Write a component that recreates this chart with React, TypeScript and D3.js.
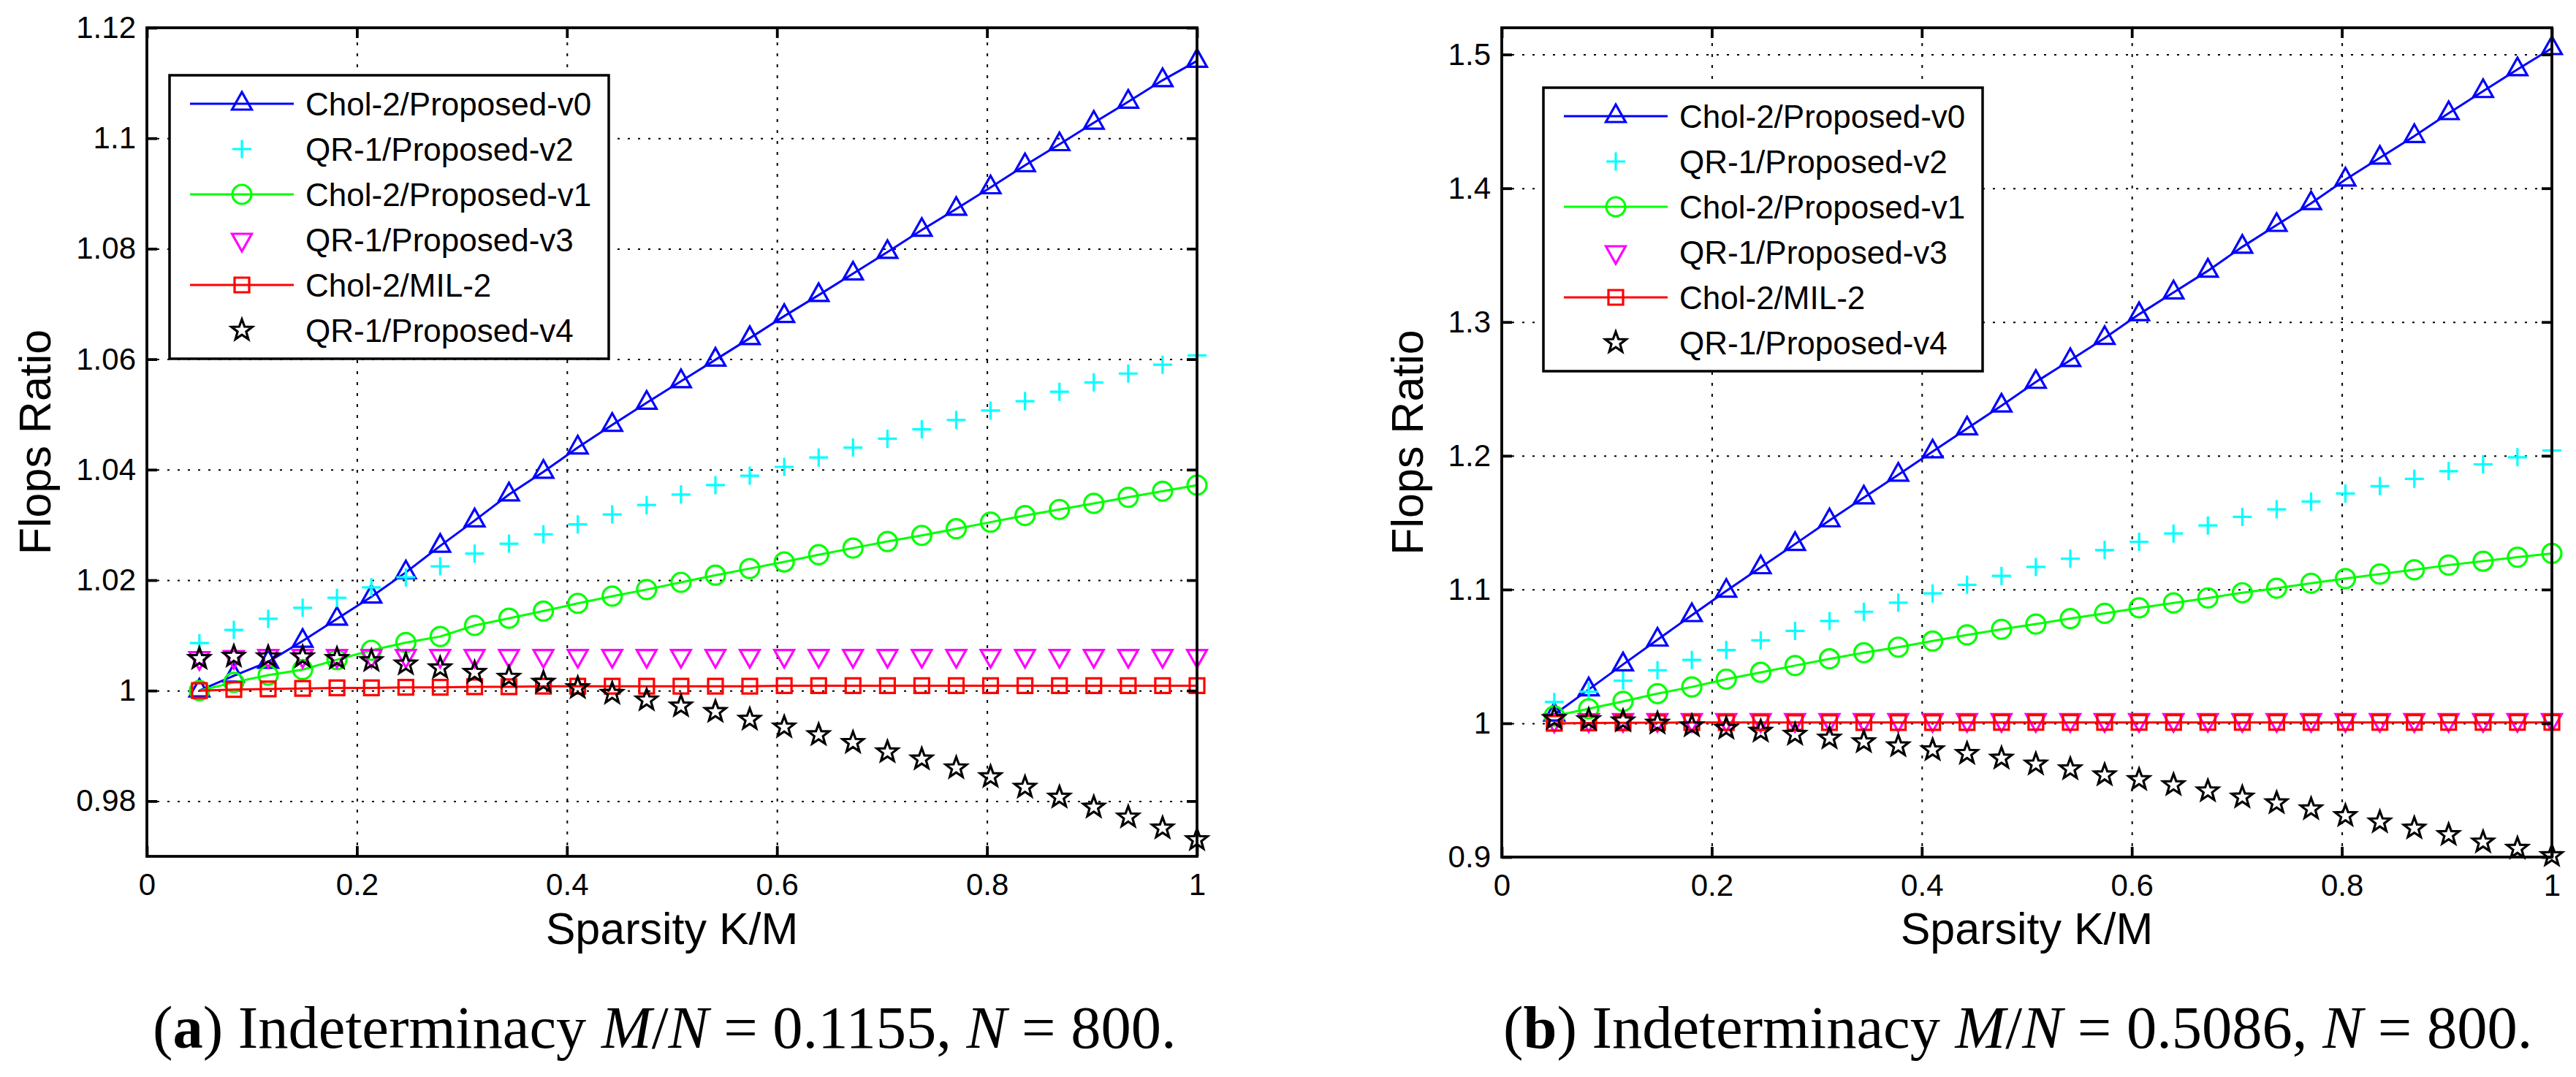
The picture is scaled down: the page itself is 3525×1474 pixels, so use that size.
import React, { useEffect, useRef } from "react";
import * as d3 from "d3";

// K/M values shared by both panels
const sparsity = [
	0.05, 0.0828, 0.1155, 0.1483, 0.181, 0.2138, 0.2466, 0.2793, 0.3121, 0.3448,
	0.3776, 0.4103, 0.4431, 0.4759, 0.5086, 0.5414, 0.5741, 0.6069, 0.6397, 0.6724,
	0.7052, 0.7379, 0.7707, 0.8034, 0.8362, 0.869, 0.9017, 0.9345, 0.9672, 1.0,
];
const xTicks = [0, 0.2, 0.4, 0.6, 0.8, 1];

// panel (a): M/N = 0.1155
const aYTicks = [0.98, 1, 1.02, 1.04, 1.06, 1.08, 1.1, 1.12];
const aCholV0 = [
	1.0, 1.0027, 1.0052, 1.009, 1.013, 1.017, 1.0214, 1.0262, 1.0308, 1.0355,
	1.0396, 1.044, 1.0481, 1.0521, 1.056, 1.0599, 1.0638, 1.0678, 1.0716, 1.0755,
	1.0794, 1.0834, 1.0872, 1.0911, 1.0951, 1.0989, 1.1028, 1.1066, 1.1105, 1.114,
];
const aQrV2 = [
	1.0086, 1.011, 1.013, 1.015, 1.0168, 1.0187, 1.0205, 1.0225, 1.0248, 1.0266,
	1.0283, 1.0301, 1.0319, 1.0336, 1.0355, 1.0372, 1.0389, 1.0405, 1.0422, 1.044,
	1.0456, 1.0473, 1.049, 1.0507, 1.0524, 1.0541, 1.0558, 1.0574, 1.059, 1.0607,
];
const aCholV1 = [
	1.0, 1.0015, 1.0028, 1.0038, 1.0056, 1.0073, 1.0087, 1.0098, 1.0118, 1.0131,
	1.0144, 1.0158, 1.0171, 1.0183, 1.0196, 1.0209, 1.0221, 1.0233, 1.0246, 1.0258,
	1.027, 1.0281, 1.0293, 1.0305, 1.0317, 1.0328, 1.0339, 1.035, 1.0361, 1.0372,
];
const aQrV3 = [
	1.0059, 1.0061, 1.0063, 1.0063, 1.0063, 1.0063, 1.0063, 1.0063, 1.0063, 1.0063,
	1.0063, 1.0063, 1.0063, 1.0063, 1.0063, 1.0063, 1.0063, 1.0063, 1.0063, 1.0063,
	1.0063, 1.0063, 1.0063, 1.0063, 1.0063, 1.0063, 1.0063, 1.0063, 1.0063, 1.0063,
];
const aCholMil2 = [
	1.0, 1.0002, 1.0003, 1.0004, 1.0005, 1.0005, 1.0006, 1.0006, 1.0007, 1.0007,
	1.0008, 1.0008, 1.0008, 1.0008, 1.0008, 1.0008, 1.0008, 1.0009, 1.0009, 1.0009,
	1.0009, 1.0009, 1.0009, 1.0009, 1.0009, 1.0009, 1.0009, 1.0009, 1.0009, 1.0009,
];
const aQrV4 = [
	1.0058, 1.0062, 1.0061, 1.0061, 1.0058, 1.0054, 1.0048, 1.0041, 1.0033, 1.0024,
	1.0015, 1.0005, 0.9995, 0.9983, 0.9972, 0.9962, 0.9948, 0.9934, 0.992, 0.9906,
	0.9889, 0.9876, 0.986, 0.9844, 0.9825, 0.9807, 0.9789, 0.9771, 0.9751, 0.973,
];

// panel (b): M/N = 0.5086
const bYTicks = [0.9, 1, 1.1, 1.2, 1.3, 1.4, 1.5];
const bCholV0 = [
	1.0065, 1.0253, 1.044, 1.0625, 1.0808, 1.099, 1.1166, 1.134, 1.1517, 1.1688,
	1.1858, 1.2032, 1.2204, 1.2375, 1.2552, 1.2715, 1.288, 1.3058, 1.3221, 1.3383,
	1.3562, 1.3725, 1.3888, 1.4065, 1.4228, 1.439, 1.4561, 1.4726, 1.4889, 1.5047,
];
const bQrV2 = [
	1.016, 1.0237, 1.0319, 1.0397, 1.0474, 1.0548, 1.062, 1.0691, 1.0765, 1.0834,
	1.0902, 1.0971, 1.1036, 1.1102, 1.1169, 1.1231, 1.1295, 1.1357, 1.1419, 1.1479,
	1.1543, 1.16, 1.1658, 1.1718, 1.1773, 1.1828, 1.1885, 1.1936, 1.1989, 1.2039,
];
const bCholV1 = [
	1.0055, 1.0109, 1.0164, 1.0222, 1.0272, 1.033, 1.0381, 1.0432, 1.0482, 1.0528,
	1.0569, 1.0615, 1.0661, 1.0703, 1.0742, 1.0783, 1.0822, 1.0863, 1.09, 1.0937,
	1.0976, 1.101, 1.1047, 1.1082, 1.1116, 1.1148, 1.1183, 1.1212, 1.1242, 1.127,
];
const bQrV3 = [
	1.0022, 1.0024, 1.0025, 1.0025, 1.0025, 1.0025, 1.0025, 1.0025, 1.0025, 1.0025,
	1.0025, 1.0025, 1.0025, 1.0025, 1.0025, 1.0025, 1.0025, 1.0025, 1.0025, 1.0025,
	1.0025, 1.0025, 1.0025, 1.0025, 1.0025, 1.0025, 1.0025, 1.0025, 1.0025, 1.0025,
];
const bCholMil2 = [
	1.0, 1.0003, 1.0004, 1.0005, 1.0006, 1.0006, 1.0006, 1.0006, 1.0006, 1.0006,
	1.0006, 1.0006, 1.0006, 1.0007, 1.0007, 1.0007, 1.0007, 1.0007, 1.0007, 1.0007,
	1.0007, 1.0007, 1.0007, 1.0007, 1.0007, 1.0007, 1.0007, 1.0007, 1.0007, 1.0007,
];
const bQrV4 = [
	1.0035, 1.0027, 1.0017, 1.0, 0.998, 0.9962, 0.994, 0.9917, 0.9889, 0.9861,
	0.9831, 0.9801, 0.9774, 0.9739, 0.9695, 0.9659, 0.9614, 0.9579, 0.954, 0.9494,
	0.9448, 0.9405, 0.936, 0.9309, 0.9262, 0.9216, 0.9167, 0.9112, 0.9065, 0.901,
];

const seriesLabels = [
	"Chol-2/Proposed-v0",
	"QR-1/Proposed-v2",
	"Chol-2/Proposed-v1",
	"QR-1/Proposed-v3",
	"Chol-2/MIL-2",
	"QR-1/Proposed-v4",
];

// styles (same order as labels)
const seriesStyle = [
	{ color: "#0000ff", marker: "triangle-up", line: true },
	{ color: "#00ffff", marker: "plus", line: false },
	{ color: "#00ff00", marker: "circle", line: true },
	{ color: "#ff00ff", marker: "triangle-down", line: false },
	{ color: "#ff0000", marker: "square", line: true },
	{ color: "#000000", marker: "star", line: false },
];

const SANS = "'Liberation Sans', Arial, Helvetica, sans-serif";
const SERIF = "'Liberation Serif', 'Times New Roman', serif";

function starPath(R: number, r: number) {
	const pts: string[] = [];
	for (let i = 0; i < 10; i++) {
		const a = -Math.PI / 2 + (i * Math.PI) / 5;
		const rad = i % 2 === 0 ? R : r;
		pts.push(`${(rad * Math.cos(a)).toFixed(2)},${(rad * Math.sin(a)).toFixed(2)}`);
	}
	return "M" + pts.join("L") + "Z";
}

function markerPath(kind: string) {
	switch (kind) {
		case "triangle-up":
			return "M0,-16L-13.5,8L13.5,8Z";
		case "triangle-down":
			return "M0,16L-13.5,-8L13.5,-8Z";
		case "square":
			return "M-10,-10H10V10H-10Z";
		case "plus":
			return "M-13,0H13M0,-12.5V12.5";
		case "circle":
			return "M13,0A13,13 0 1,1 -13,0A13,13 0 1,1 13,0Z";
		case "star":
			return starPath(15, 6.2);
		default:
			return "";
	}
}

type PanelProps = {
	box: { x0: number; x1: number; y0: number; y1: number };
	yDomain: [number, number];
	yTicks: number[];
	data: number[][];
	legendPos: { x: number; y: number };
	ylabelX: number;
	caption: { letter: string; ratio: string; x: number };
};

function Panel({ box, yDomain, yTicks, data, legendPos, ylabelX, caption }: PanelProps) {
	const gRef = useRef<SVGGElement | null>(null);

	useEffect(() => {
		if (!gRef.current) return;
		const g = d3.select(gRef.current);
		g.selectAll("*").remove();

		const { x0, x1, y0, y1 } = box;
		const x = d3.scaleLinear().domain([0, 1]).range([x0, x1]);
		const y = d3.scaleLinear().domain(yDomain).range([y1, y0]);
		const TICK = 14;

		// grid
		const gridY = g
			.append("g")
			.attr("transform", `translate(${x0},0)`)
			.call(
				d3
					.axisLeft(y)
					.tickValues(yTicks.filter((t) => t > yDomain[0] && t < yDomain[1]))
					.tickSize(-(x1 - x0))
					.tickFormat(() => "")
			);
		gridY.select(".domain").remove();
		gridY.selectAll("line").attr("stroke", "#000").attr("stroke-width", 2).attr("stroke-dasharray", "3,11");

		const gridX = g
			.append("g")
			.attr("transform", `translate(0,${y1})`)
			.call(
				d3
					.axisBottom(x)
					.tickValues(xTicks.filter((t) => t > 0 && t < 1))
					.tickSize(-(y1 - y0))
					.tickFormat(() => "")
			);
		gridX.select(".domain").remove();
		gridX.selectAll("line").attr("stroke", "#000").attr("stroke-width", 2).attr("stroke-dasharray", "4,11");

		// series
		const line = d3
			.line<number>()
			.x((_, i) => x(sparsity[i]))
			.y((d) => y(d));

		data.forEach((values, si) => {
			const st = seriesStyle[si];
			const sg = g.append("g");
			if (st.line) {
				sg.append("path")
					.attr("d", line(values) ?? "")
					.attr("fill", "none")
					.attr("stroke", st.color)
					.attr("stroke-width", 3);
			}
			sg.selectAll("path.mk")
				.data(values)
				.enter()
				.append("path")
				.attr("class", "mk")
				.attr("d", markerPath(st.marker))
				.attr("transform", (d, i) => `translate(${x(sparsity[i])},${y(d)})`)
				.attr("fill", "none")
				.attr("stroke", st.color)
				.attr("stroke-width", 3.2);
		});

		// axes box + ticks
		g.append("rect")
			.attr("x", x0)
			.attr("y", y0)
			.attr("width", x1 - x0)
			.attr("height", y1 - y0)
			.attr("fill", "none")
			.attr("stroke", "#000")
			.attr("stroke-width", 3.8);

		const styleAxis = (sel: d3.Selection<SVGGElement, unknown, null, undefined>) => {
			sel.select(".domain").remove();
			sel.selectAll("line").attr("stroke", "#000").attr("stroke-width", 3.8);
			sel.selectAll("text")
				.attr("fill", "#000")
				.attr("font-family", SANS)
				.attr("font-size", 42);
		};

		g.append("g")
			.attr("transform", `translate(${x0},0)`)
			.call(d3.axisLeft(y).tickValues(yTicks).tickSize(-TICK).tickPadding(15).tickFormat((d) => String(d)))
			.call(styleAxis);
		g.append("g")
			.attr("transform", `translate(${x1},0)`)
			.call(d3.axisRight(y).tickValues(yTicks).tickSize(-TICK).tickFormat(() => ""))
			.call(styleAxis);
		g.append("g")
			.attr("transform", `translate(0,${y1})`)
			.call(d3.axisBottom(x).tickValues(xTicks).tickSize(-TICK).tickPadding(23).tickFormat((d) => String(d)))
			.call(styleAxis);
		g.append("g")
			.attr("transform", `translate(0,${y0})`)
			.call(d3.axisTop(x).tickValues(xTicks).tickSize(-TICK).tickFormat(() => ""))
			.call(styleAxis);

		// axis labels
		g.append("text")
			.attr("x", (x0 + x1) / 2)
			.attr("y", 1292)
			.attr("text-anchor", "middle")
			.attr("font-family", SANS)
			.attr("font-size", 61)
			.text("Sparsity K/M");
		g.append("text")
			.attr("transform", `translate(${ylabelX},${(y0 + y1) / 2}) rotate(-90)`)
			.attr("text-anchor", "middle")
			.attr("font-family", SANS)
			.attr("font-size", 61)
			.text("Flops Ratio");

		// legend
		const lg = g.append("g").attr("transform", `translate(${legendPos.x},${legendPos.y})`);
		lg.append("rect")
			.attr("width", 601)
			.attr("height", 388)
			.attr("fill", "#fff")
			.attr("stroke", "#000")
			.attr("stroke-width", 3.5);
		seriesLabels.forEach((label, i) => {
			const st = seriesStyle[i];
			const ry = 39 + i * 62;
			if (st.line) {
				lg.append("line")
					.attr("x1", 28)
					.attr("x2", 170)
					.attr("y1", ry)
					.attr("y2", ry)
					.attr("stroke", st.color)
					.attr("stroke-width", 3);
			}
			lg.append("path")
				.attr("d", markerPath(st.marker))
				.attr("transform", `translate(99,${ry})`)
				.attr("fill", "none")
				.attr("stroke", st.color)
				.attr("stroke-width", 3.2);
			lg.append("text")
				.attr("x", 186)
				.attr("y", ry + 16)
				.attr("font-family", SANS)
				.attr("font-size", 44)
				.attr("fill", "#000")
				.text(label);
		});
	}, [box, yDomain, yTicks, data, legendPos, ylabelX]);

	return (
		<g>
			<g ref={gRef} />
			<text x={caption.x} y={1434} fontFamily={SERIF} fontSize={82.5} fill="#000">
				<tspan>(</tspan>
				<tspan fontWeight="bold">{caption.letter}</tspan>
				<tspan>) Indeterminacy </tspan>
				<tspan fontStyle="italic">M</tspan>
				<tspan>/</tspan>
				<tspan fontStyle="italic">N</tspan>
				<tspan>{` = ${caption.ratio}, `}</tspan>
				<tspan fontStyle="italic">N</tspan>
				<tspan> = 800.</tspan>
			</text>
		</g>
	);
}

const boxA = { x0: 201, x1: 1638, y0: 38, y1: 1172 };
const boxB = { x0: 2055, x1: 3492, y0: 38, y1: 1173 };
const domA: [number, number] = [0.97, 1.12];
const domB: [number, number] = [0.9, 1.52];
const dataA = [aCholV0, aQrV2, aCholV1, aQrV3, aCholMil2, aQrV4];
const dataB = [bCholV0, bQrV2, bCholV1, bQrV3, bCholMil2, bQrV4];
const legA = { x: 232, y: 103 };
const legB = { x: 2112, y: 120 };
const capA = { letter: "a", ratio: "0.1155", x: 209 };
const capB = { letter: "b", ratio: "0.5086", x: 2057 };

export default function App() {
	return (
		<svg
			width={3525}
			height={1474}
			viewBox="0 0 3525 1474"
			style={{ position: "absolute", left: 0, top: 0, background: "#fff" }}
		>
			<rect width={3525} height={1474} fill="#fff" />
			<Panel box={boxA} yDomain={domA} yTicks={aYTicks} data={dataA} legendPos={legA} ylabelX={69} caption={capA} />
			<Panel box={boxB} yDomain={domB} yTicks={bYTicks} data={dataB} legendPos={legB} ylabelX={1947} caption={capB} />
		</svg>
	);
}
